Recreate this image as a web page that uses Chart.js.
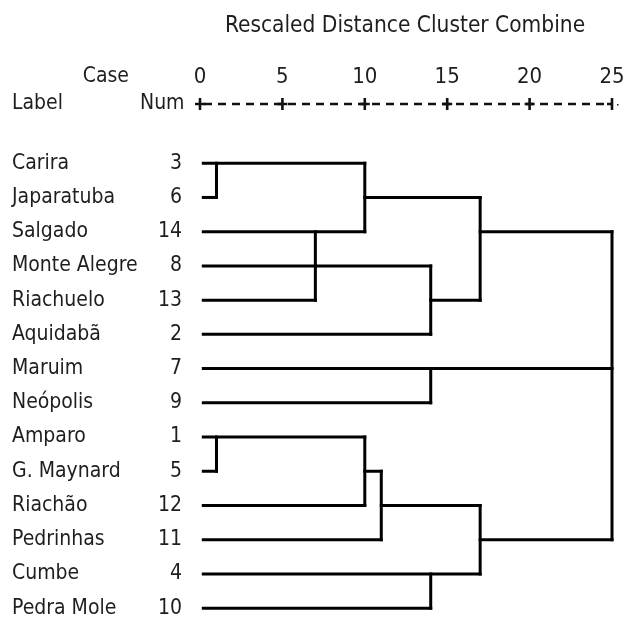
<!DOCTYPE html>
<html>
<head>
<meta charset="utf-8">
<script src="https://cdn.jsdelivr.net/npm/chart.js@4/dist/chart.umd.min.js"></script>
<style>
  html, body { margin: 0; padding: 0; background: #fff; }
  #wrap { position: relative; width: 630px; height: 617px; }
</style>
</head>
<body>
<div id="wrap"><canvas id="c" width="630" height="617"></canvas></div>
<script>
// ---- data ----
const caseLabels = ['Carira','Japaratuba','Salgado','Monte Alegre','Riachuelo','Aquidabã','Maruim','Neópolis','Amparo','G. Maynard','Riachão','Pedrinhas','Cumbe','Pedra Mole'];
const caseNums   = [3, 6, 14, 8, 13, 2, 7, 9, 1, 5, 12, 11, 4, 10];
// distance reached by each case's own horizontal line
const leafReach  = [10, 1, 10, 14, 7, 14, 25, 14, 10, 1, 10, 11, 17, 14];
// merges (rescaled distance, top row, bottom row, output row, distance the output line reaches)
const mergeDist   = [1, 7, 10, 14, 17, 14, 1, 10, 11, 14, 17, 25];
const mergeTop    = [0, 2, 0, 3, 1, 6, 8, 8, 9, 12, 10, 2];
const mergeBottom = [1, 4, 2, 5, 4, 7, 9, 10, 11, 13, 12, 11];
const mergeOutRow = [null, null, 1, 4, 2, null, null, 9, 10, null, 11, null];
const mergeOutTo  = [null, null, 17, 17, 25, null, null, 11, 17, null, 25, null];
const tickValues  = [0, 5, 10, 15, 20, 25];
const axisTitle   = 'Rescaled Distance Cluster Combine';

// ---- build segments ----
const LINE_START = 0.2;
const segments = [];
caseLabels.forEach((_, i) => segments.push([{x: LINE_START, y: i}, {x: leafReach[i], y: i}]));
mergeDist.forEach((d, k) => {
  segments.push([{x: d, y: mergeTop[k]}, {x: d, y: mergeBottom[k]}]);
  if (mergeOutRow[k] !== null) {
    segments.push([{x: d, y: mergeOutRow[k]}, {x: mergeOutTo[k], y: mergeOutRow[k]}]);
  }
});

const FONT = '"DejaVu Sans Condensed", "DejaVu Sans", sans-serif';
const TEXT = '#1e1e1e';

const textPlugin = {
  id: 'dendroText',
  afterDraw(chart) {
    const ctx = chart.ctx;
    const xs = chart.scales.x, ys = chart.scales.y;
    ctx.save();
    ctx.fillStyle = TEXT;
    ctx.textBaseline = 'middle';
    // title
    ctx.font = '22.5px ' + FONT;
    ctx.textAlign = 'center';
    ctx.fillText(axisTitle, 405, 26);
    // header
    ctx.font = '21px ' + FONT;
    ctx.textAlign = 'right';
    ctx.fillText('Case', 129, 77);
    ctx.textAlign = 'left';
    ctx.fillText('Label', 12, 104);
    ctx.fillText('Num', 140, 104);
    // tick labels
    ctx.font = '22px ' + FONT;
    ctx.textAlign = 'center';
    tickValues.forEach(v => ctx.fillText(String(v), xs.getPixelForValue(v), 77));
    // ruler
    const ry = 104;
    ctx.strokeStyle = '#111';
    ctx.lineWidth = 2.6;
    const x0 = xs.getPixelForValue(tickValues[0]);
    const x1 = xs.getPixelForValue(tickValues[tickValues.length - 1]);
    ctx.setLineDash([8, 6]);
    ctx.lineDashOffset = -4;
    ctx.beginPath(); ctx.moveTo(x0, ry); ctx.lineTo(x1, ry); ctx.stroke();
    ctx.setLineDash([]);
    tickValues.forEach(v => {
      const px = xs.getPixelForValue(v);
      ctx.beginPath();
      ctx.moveTo(px, ry - 6); ctx.lineTo(px, ry + 6);
      ctx.moveTo(px - 5, ry); ctx.lineTo(px + (v === 25 ? 0 : 5), ry);
      ctx.stroke();
    });
    ctx.fillRect(x1 + 5, ry, 1.5, 1.5);
    // case labels and numbers
    ctx.font = '21px ' + FONT;
    caseLabels.forEach((lab, i) => {
      const py = ys.getPixelForValue(i);
      ctx.textAlign = 'left';
      ctx.fillText(lab, 12, py);
      ctx.textAlign = 'right';
      ctx.fillText(String(caseNums[i]), 182, py);
    });
    ctx.restore();
  }
};

new Chart(document.getElementById('c'), {
  type: 'scatter',
  data: {
    datasets: segments.map(seg => ({
      data: seg,
      showLine: true,
      borderColor: '#000',
      borderWidth: 3,
      borderCapStyle: 'square',
      pointRadius: 0,
      pointHoverRadius: 0,
      fill: false,
      clip: false
    }))
  },
  options: {
    responsive: false,
    animation: false,
    events: [],
    layout: { padding: { left: 200, right: 18, top: 129, bottom: 2 } },
    plugins: { legend: { display: false }, tooltip: { enabled: false } },
    scales: {
      x: { type: 'linear', min: 0, max: 25, display: false },
      y: { type: 'linear', min: -1, max: 13.2, reverse: true, display: false }
    }
  },
  plugins: [textPlugin]
});
</script>
</body>
</html>
